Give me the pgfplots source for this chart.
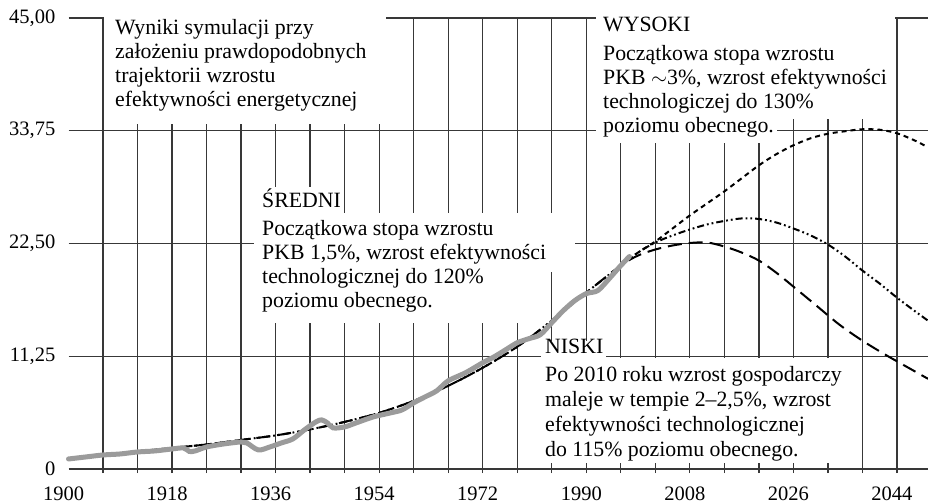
\documentclass[border=0pt]{standalone}
\usepackage{pgfplots}
\pgfplotsset{compat=1.18}
\usepackage{fontspec}
\setmainfont{Liberation Serif}

\pgfplotstableread{
x y
1900 1.0
1906 1.4
1912 1.75
1918 2.1
1924 2.45
1930 2.9
1936 3.35
1942 3.95
1948 4.7
1954 5.6
1960 6.8
1966 8.3
1972 10.1
1978 12.2
1984 14.8
1990 17.6
1996 20.3
1999 21.3
2002 21.9
2005 22.3
2008 22.55
2011 22.6
2014 22.2
2017 21.6
2020 20.8
2023 19.6
2026 18.2
2030 16.3
2034 14.4
2038 12.8
2042 11.4
2046 10.1
2049.4 9.0
}\niski

\pgfplotstableread{
x y
1900 1.0
1906 1.4
1912 1.75
1918 2.1
1924 2.45
1930 2.9
1936 3.35
1942 3.95
1948 4.7
1954 5.6
1960 6.8
1966 8.3
1972 10.1
1978 12.2
1984 14.8
1990 17.6
1996 20.3
1999 21.6
2002 22.6
2005 23.3
2008 23.9
2011 24.4
2014 24.75
2017 25.0
2020 24.95
2023 24.6
2026 24.0
2029 23.3
2032 22.4
2035 21.2
2038 19.8
2041 18.5
2044 17.1
2047 15.8
2049.4 14.8
}\sredni

\pgfplotstableread{
x y
1996 20.3
1999 21.6
2002 22.7
2005 24.0
2008 25.3
2011 26.5
2014 27.7
2017 29.0
2020 30.3
2023 31.4
2026 32.3
2029 33.0
2032 33.45
2035 33.7
2038 33.9
2041 33.85
2044 33.5
2047 32.8
2049.4 32.1
}\wysoki

\pgfplotstableread{
x y
1900 1.0
1903 1.2
1906 1.4
1909 1.5
1912 1.7
1915 1.8
1918 2.0
1920 2.1
1921 1.75
1922 1.8
1924 2.2
1927 2.5
1930 2.7
1931 2.6
1933 1.9
1935 2.2
1937 2.6
1939 3.0
1941 3.9
1943 4.7
1944 4.9
1945 4.6
1946 4.1
1948 4.2
1950 4.6
1953 5.2
1956 5.6
1958 5.9
1960 6.6
1962 7.2
1964 7.8
1966 8.8
1969 9.6
1972 10.6
1974 11.2
1976 11.9
1978 12.6
1980 13.0
1982 13.4
1984 14.6
1986 15.8
1988 16.8
1990 17.5
1992 17.8
1994 19.0
1996 20.3
1997.5 21.2
}\hist

\begin{document}
\begin{tikzpicture}[x=1bp,y=1bp]
\tikzset{gridl/.style={line width=1.3bp, color=black!78},
  tlab/.style={inner sep=0pt, font=\fontsize{20.5bp}{24bp}\selectfont}}
\begin{axis}[
  at={(68.5bp,35bp)}, anchor=south west,
  scale only axis, width=859.5bp, height=451bp,
  xmin=1900, xmax=2049.4, ymin=0, ymax=45,
  clip=false,
  axis line style={draw=none},
  major tick length=0pt,
  tick style={draw=none},
  xtick=\empty, ytick=\empty,
]
\pgfplotsinvokeforeach{0,11.25,22.5,33.75,45}{\draw[gridl] (axis cs:1900,#1) -- (axis cs:2049.4,#1);}
\pgfplotsinvokeforeach{1906,1912,...,2044}{\draw[gridl] (axis cs:#1,-0.4) -- (axis cs:#1,45);}
\pgfplotsinvokeforeach{1900,1918,1936,1954,1972,1990,2008,2026,2044}{\node[tlab, anchor=base] at ([xshift=-5bp, yshift=-31.5bp]axis cs:#1,0) {#1};}
\node[tlab, anchor=east] at ([xshift=-13bp]axis cs:1900,0) {0};
\node[tlab, anchor=east] at ([xshift=-13bp]axis cs:1900,11.25) {11,25};
\node[tlab, anchor=east] at ([xshift=-13bp]axis cs:1900,22.5) {22,50};
\node[tlab, anchor=east] at ([xshift=-13bp]axis cs:1900,33.75) {33,75};
\node[tlab, anchor=east] at ([xshift=-13bp]axis cs:1900,45) {45,00};

\addplot[black, line width=2bp, smooth, dash pattern=on 14bp off 7bp] table {\niski};
\addplot[black, line width=2bp, smooth, dash pattern=on 7bp off 3bp on 1.8bp off 3bp on 1.8bp off 3bp] table {\sredni};
\addplot[black, line width=2bp, smooth, dash pattern=on 5bp off 4bp] table {\wysoki};
\addplot[color={rgb,255:red,155;green,155;blue,155}, line width=5bp, smooth, line cap=round] table {\hist};
\end{axis}

\begin{scope}[shift={(0,504)}, yscale=-1]
\fill[white] (104,-1) rectangle (386,124);
\fill[white] (596,-1) rectangle (895,119);
\fill[white] (596,118) rectangle (777,143);
\fill[white] (254,187) rectangle (343,214);
\fill[white] (254,213) rectangle (575,272);
\fill[white] (254,271) rectangle (549,323);
\fill[white] (541,341) rectangle (606,361);
\fill[white] (541,358) rectangle (850,463);
\begin{scope}[every node/.style={anchor=base west, inner sep=0pt, font=\fontsize{21.8bp}{24bp}\selectfont}]
\node at (115,35) {Wyniki symulacji przy};
\node at (115,59) {założeniu prawdopodobnych};
\node at (115,83) {trajektorii wzrostu};
\node at (115,107) {efektywności energetycznej};
\node at (603,32) {WYSOKI};
\node at (603,61) {Początkowa stopa wzrostu};
\node at (603,85) {PKB \(\sim\)3\%, wzrost efektywności};
\node at (603,109) {technologiczej do 130\%};
\node at (603,133) {poziomu obecnego.};
\node at (262,208) {ŚREDNI};
\node at (262,236) {Początkowa stopa wzrostu};
\node at (262,260) {PKB 1,5\%, wzrost efektywności};
\node at (262,284) {technologicznej do 120\%};
\node at (262,308) {poziomu obecnego.};
\node at (545,354) {NISKI};
\node at (545,382) {Po 2010 roku wzrost gospodarczy};
\node at (545,407) {maleje w tempie 2–2,5\%, wzrost};
\node at (545,432) {efektywności technologicznej};
\node at (545,457) {do 115\% poziomu obecnego.};
\end{scope}
\end{scope}
\pgfresetboundingbox
\path (0,0) rectangle (928,504);
\end{tikzpicture}
\end{document}
